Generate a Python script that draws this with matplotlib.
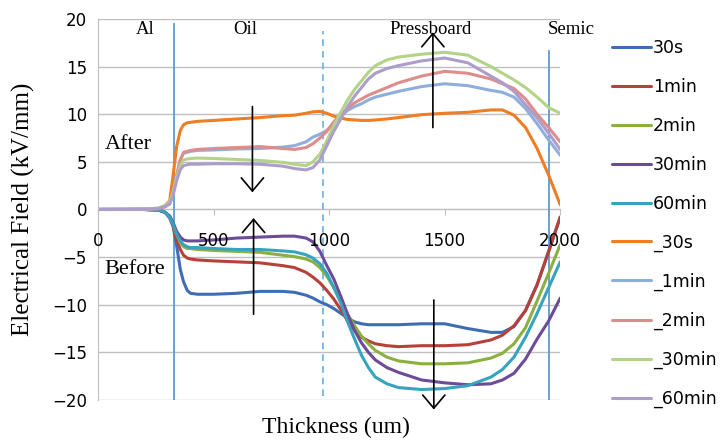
#!/usr/bin/env python3
"""Electrical field across Al / Oil / Pressboard / Semic, before and after."""

import matplotlib

matplotlib.use("Agg")
import matplotlib.pyplot as plt

# thickness grid (um)
x_um = [0, 200, 260, 290, 310, 325, 340, 356, 370, 386, 400, 430, 500, 600, 700, 800, 850, 900, 930, 960,
        990, 1020, 1050, 1080, 1110, 1140, 1170, 1200, 1250, 1300, 1400, 1500, 1600, 1700, 1750, 1800,
        1850, 1900, 1950, 2000]

# "Before" curves (kV/mm)
before_30s = [0, 0, -0.05, -0.3, -0.9, -1.8, -3.8, -6.3, -7.6, -8.5, -8.8, -8.9, -8.9, -8.8, -8.6, -8.6,
              -8.7, -9.0, -9.3, -9.7, -10.0, -10.4, -10.9, -11.4, -11.8, -12.0, -12.1, -12.1, -12.1, -12.1,
              -12.0, -12.0, -12.5, -12.9, -12.9, -12.3, -10.6, -7.9, -4.4, -0.8]
before_1min = [0, 0, -0.05, -0.3, -0.8, -1.7, -3.2, -4.2, -4.8, -5.1, -5.2, -5.3, -5.4, -5.5, -5.6, -5.9,
               -6.1, -6.6, -7.1, -7.7, -8.5, -9.4, -10.5, -11.7, -12.7, -13.4, -13.8, -14.1, -14.3, -14.4,
               -14.3, -14.3, -14.2, -13.7, -13.2, -12.2, -10.6, -7.9, -4.4, -0.8]
before_2min = [0, 0, -0.05, -0.3, -0.7, -1.5, -2.6, -3.5, -3.9, -4.1, -4.1, -4.2, -4.3, -4.4, -4.5, -4.8,
               -4.95, -5.2, -5.5, -6.1, -7.0, -8.2, -9.5, -11.0, -12.2, -13.3, -14.1, -14.8, -15.5, -15.9,
               -16.2, -16.2, -16.1, -15.6, -15.1, -14.1, -12.4, -9.6, -6.7, -3.7]
before_30min = [0, 0, -0.05, -0.3, -0.7, -1.4, -2.3, -2.9, -3.2, -3.3, -3.3, -3.3, -3.2, -3.0, -2.9, -2.8,
                -2.8, -3.0, -3.4, -4.4, -5.9, -7.3, -9.1, -11.0, -12.7, -14.0, -15.0, -15.8, -16.6, -17.1,
                -17.9, -18.2, -18.4, -18.3, -17.9, -17.2, -15.7, -13.6, -11.7, -9.3]
before_60min = [0, 0, -0.05, -0.3, -0.8, -1.6, -2.6, -3.3, -3.7, -3.9, -4.0, -4.0, -4.1, -4.2, -4.2, -4.35,
                -4.45, -4.75, -5.1, -5.7, -6.7, -8.2, -9.8, -11.8, -13.6, -15.3, -16.6, -17.6, -18.3, -18.7,
                -18.9, -18.8, -18.5, -17.6, -16.8, -15.5, -13.4, -10.9, -8.2, -5.5]

# "After" curves (kV/mm)
after_30s = [0, 0.02, 0.1, 0.4, 0.9, 3.6, 6.6, 8.3, 8.9, 9.1, 9.15, 9.25, 9.35, 9.5, 9.65, 9.85, 9.9, 10.1,
             10.25, 10.3, 10.1, 9.8, 9.6, 9.45, 9.4, 9.35, 9.35, 9.4, 9.5, 9.65, 9.95, 10.1, 10.2, 10.45,
             10.45, 9.9, 8.6, 6.4, 3.6, 0.5]
after_1min = [0, 0.02, 0.1, 0.3, 0.6, 1.8, 3.6, 5.2, 5.9, 6.0, 6.1, 6.2, 6.25, 6.35, 6.4, 6.55, 6.7, 7.1,
              7.6, 7.9, 8.3, 9.0, 9.8, 10.4, 10.8, 11.1, 11.5, 11.8, 12.1, 12.4, 12.9, 13.2, 13.0, 12.5,
              12.3, 11.8, 10.6, 9.0, 7.3, 5.7]
after_2min = [0, 0.02, 0.1, 0.3, 0.6, 1.8, 3.6, 5.2, 6.0, 6.1, 6.2, 6.3, 6.4, 6.5, 6.6, 6.4, 6.3, 6.5, 6.9,
              7.5, 8.2, 9.2, 10.0, 10.6, 11.2, 11.6, 12.0, 12.3, 12.8, 13.3, 14.0, 14.5, 14.3, 13.7, 13.2,
              12.7, 11.6, 10.0, 8.6, 7.1]
after_30min = [0, 0.02, 0.15, 0.4, 0.8, 1.8, 3.4, 4.6, 5.2, 5.3, 5.35, 5.4, 5.35, 5.25, 5.15, 4.95, 4.75,
               4.6, 5.0, 5.8, 7.2, 8.8, 10.2, 11.5, 12.6, 13.5, 14.4, 15.1, 15.7, 16.0, 16.3, 16.5, 16.2,
               15.0, 14.3, 13.6, 12.8, 11.8, 10.7, 10.1]
after_60min = [0, 0.02, 0.1, 0.3, 0.6, 1.5, 3.0, 4.2, 4.6, 4.7, 4.75, 4.75, 4.8, 4.8, 4.75, 4.55, 4.3, 4.15,
               4.4, 5.2, 6.7, 8.2, 9.5, 10.8, 11.9, 12.8, 13.7, 14.3, 14.8, 15.1, 15.6, 15.9, 15.4, 14.0,
               13.3, 12.4, 11.0, 9.6, 8.0, 6.3]

series = [
    ("30s", before_30s, "#3F6DB3"),
    ("1min", before_1min, "#B8403B"),
    ("2min", before_2min, "#8AB03F"),
    ("30min", before_30min, "#6C4B98"),
    ("60min", before_60min, "#37A3BE"),
    ("_30s", after_30s, "#EE7D24"),
    ("_1min", after_1min, "#8FAEDB"),
    ("_2min", after_2min, "#DD8D8B"),
    ("_30min", after_30min, "#B3D387"),
    ("_60min", after_60min, "#AC9DCB"),
]

# layer boundaries (um)
al_oil = 330
oil_pb = 972
pb_semic = 1952

y_ticks = [-20, -15, -10, -5, 0, 5, 10, 15, 20]
x_ticks = [0, 500, 1000, 1500, 2000]

serif = "Liberation Serif"

fig = plt.figure(figsize=(7.21, 4.41), dpi=100)
ax = fig.add_axes([0.136, 0.093, 0.641, 0.864])
ax.set_axisbelow(False)

# horizontal grid
for yv in y_ticks:
    ax.axhline(yv, color="#BFBFBF", lw=1.0, zorder=0.5)

# layer boundary lines
ax.plot([al_oil, al_oil], [-20, 19.5], color="#5B9BD5", lw=1.3, zorder=1)
ax.plot([oil_pb, oil_pb], [-19.6, 18.7], color="#6AAEE3", lw=1.2, ls=(0, (4, 3)), zorder=1)
ax.plot([pb_semic, pb_semic], [-20, 16.6], color="#5B9BD5", lw=1.3, zorder=1)

handles, labels = [], []
for name, vals, col in series:
    (ln,) = ax.plot(x_um, vals, color=col, lw=2.2, zorder=2, solid_capstyle="round")
    handles.append(ln)
    labels.append(name)

# arrows
arrow_kw = dict(arrowstyle="->,head_length=0.95,head_width=0.8", color="black", lw=1.2,
                shrinkA=0, shrinkB=0, clip_on=False)
ax.annotate("", xy=(668, 1.8), xytext=(668, 10.8), arrowprops=arrow_kw, annotation_clip=False)
ax.annotate("", xy=(673, -0.9), xytext=(673, -11.0), arrowprops=arrow_kw, annotation_clip=False)
ax.annotate("", xy=(1449, 18.6), xytext=(1449, 8.6), arrowprops=arrow_kw, annotation_clip=False)
ax.annotate("", xy=(1453, -21.0), xytext=(1453, -9.5), arrowprops=arrow_kw, annotation_clip=False)

# region labels
ax.text(204, 18.9, "Al", family=serif, fontsize=13.5, ha="center", va="center")
ax.text(638, 18.9, "Oil", family=serif, fontsize=13.5, ha="center", va="center")
ax.text(1440, 18.9, "Pressboard", family=serif, fontsize=13.5, ha="center", va="center")
ax.text(2048, 18.9, "Semic", family=serif, fontsize=13.5, ha="center", va="center", clip_on=False)
ax.text(130, 6.8, "After", family=serif, fontsize=16, ha="center", va="center")
ax.text(160, -6.3, "Before", family=serif, fontsize=16, ha="center", va="center")

ax.set_xlim(0, 2000)
ax.set_ylim(-20, 20)
ax.set_xticks(x_ticks)
ax.set_yticks(y_ticks)
ax.tick_params(axis="x", direction="out", length=4.5, color="#BFBFBF", pad=12, labelsize=12)
ax.tick_params(axis="y", length=0, pad=8, labelsize=12)

for s in ["top", "right"]:
    ax.spines[s].set_visible(False)
ax.spines["bottom"].set_position(("data", 0))
ax.spines["bottom"].set_color("#BFBFBF")
ax.spines["left"].set_color("#BFBFBF")
ax.spines["bottom"].set_zorder(0.6)

ax.set_xlabel("Thickness (um)", family=serif, fontsize=17)
ax.xaxis.set_label_coords(0.515, -0.045)
ax.set_ylabel("Electrical Field (kV/mm)", family=serif, fontsize=18)
ax.yaxis.set_label_coords(-0.136, 0.5)

ax.legend(handles, labels, loc="upper left", bbox_to_anchor=(0.849, 0.911), bbox_transform=fig.transFigure,
          frameon=False, fontsize=12.5, handlelength=2.25, handletextpad=0.1, labelspacing=1.2,
          borderpad=0, borderaxespad=0)

fig.savefig("out.png", dpi=100)
